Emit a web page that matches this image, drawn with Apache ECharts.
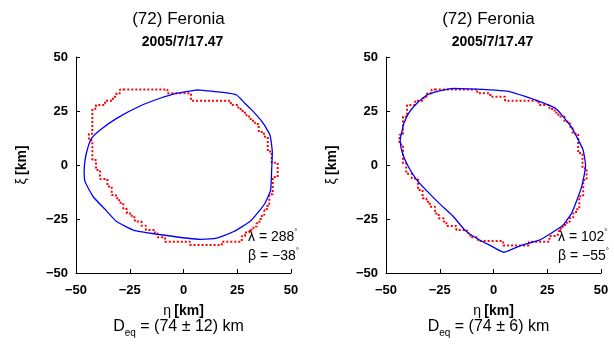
<!DOCTYPE html>
<html>
<head>
<meta charset="utf-8">
<script src="https://cdn.jsdelivr.net/npm/echarts@6/dist/echarts.min.js"></script>
<style>
  html, body { margin: 0; padding: 0; background: #ffffff; }
  #chart { width: 614px; height: 347px; }
</style>
</head>
<body>
<div id="chart"></div>
<script>
// Axis ticks (km), shared by both projections
const ticks = [-50, -25, 0, 25, 50];

// Panel captions
const asteroidName = '(72) Feronia';
const epochLabel = '2005/7/17.47';

// Pole solutions and equivalent diameters
const poleLambda = [288, 102];
const poleBeta = [-38, -55];
const diameter = [74, 74];
const diameterErr = [12, 6];

// Shape-model silhouette, pole solution 1 (eta, xi) in km
const modelLeft = [
  [6.5, 34.8], [18.5, 33.6], [24.7, 32.4], [28.5, 28.6], [32.5, 24.7], [37.1, 19.3],
  [40.2, 13.9], [41.3, 6], [41, -2.3], [40.5, -11.6], [37.9, -17.7], [34.5, -22.2],
  [30.9, -26.2], [23.2, -30.9], [15.4, -33.9], [7.7, -34.4], [-9.4, -32.4], [-23.3, -30.1],
  [-31.1, -26.2], [-36.5, -20.5], [-42, -14.7], [-45.8, -7.7], [-46.2, -3], [-45.8, 2.3],
  [-44.5, 8], [-42.7, 12.4], [-38.8, 16.2], [-31.1, 21.6], [-20.2, 27.3], [-10.9, 30.9],
  [-3.2, 33.2], [6.5, 34.8]
];

// Occultation-derived outline (pixel contour), pole solution 1
const outlineLeft = [
  [-28, 35], [-7.5, 35], [-7.5, 33.2], [3.5, 33.2], [3.5, 29.8], [22, 29.8], [22, 27.8],
  [25.5, 27.8], [25.5, 25.9], [27.5, 25.9], [27.5, 24.2], [29.3, 24.2], [29.3, 22.4],
  [31.2, 22.4], [31.2, 20.5], [33.2, 20.5], [33.2, 19], [35, 19], [35, 15.3], [37.4, 15.3],
  [37.4, 13.1], [39.2, 13.1], [39.2, 6.2], [41, 6.2], [41, 1], [43.8, 1], [43.8, -5.6],
  [41.5, -5.6], [41.5, -13.5], [39.9, -13.5], [39.9, -19], [38.7, -19], [38.7, -21],
  [37.6, -21], [37.6, -23], [36.4, -23], [36.4, -25], [35.3, -25], [35.3, -27], [34, -27],
  [34, -28.5], [32.5, -28.5], [32.5, -30], [30.6, -30], [30.6, -31.2], [28.6, -31.2],
  [28.6, -33], [27.1, -33], [27.1, -35.5], [17.8, -35.5], [17.8, -37], [3, -37], [3, -35.5],
  [-8.6, -35.5], [-8.6, -33.5], [-12, -33.5], [-12, -31.6], [-13.3, -31.6], [-13.3, -30.1],
  [-17.5, -30.1], [-17.5, -28.1], [-19.5, -28.1], [-19.5, -26.2], [-22.6, -26.2],
  [-22.6, -24.2], [-24.1, -24.2], [-24.1, -22.4], [-26.3, -22.4], [-26.3, -20.4], [-28, -20.4],
  [-28, -17.5], [-29.9, -17.5], [-29.9, -15.4], [-31.4, -15.4], [-31.4, -13.9], [-33.4, -13.9],
  [-33.4, -10], [-35.4, -10], [-35.4, -6.5], [-38.8, -6.5], [-38.8, -2.3], [-40.7, -2.3],
  [-40.7, 2.3], [-42.4, 2.3], [-42.4, 11.5], [-44, 11.5], [-44, 14.5], [-42.4, 14.5],
  [-42.4, 26], [-40.7, 26], [-40.7, 27.8], [-36.5, 27.8], [-36.5, 29.8], [-32.8, 29.8],
  [-32.8, 31.6], [-31.2, 31.6], [-31.2, 33.2], [-29.5, 33.2], [-29.5, 35], [-28, 35]
];

// Shape-model silhouette, pole solution 2
const modelRight = [
  [-19, 35.5], [-5, 35], [3.3, 34.4], [7.7, 33.9], [14, 32], [21.6, 29.3], [28.9, 26.2],
  [32.4, 22.4], [36.6, 17], [39.5, 11.5], [41.7, 6.9], [42.8, 0], [42.5, -3], [41, -10],
  [38.5, -17], [36.3, -22.4], [33, -27], [31.6, -28.5], [27, -31.5], [21.6, -34.7],
  [12.6, -37.3], [4.8, -40.4], [-2, -37], [-7.7, -34], [-13, -30.5], [-19, -23.5],
  [-25, -18], [-31, -12], [-36, -6.5], [-40, 0], [-42.5, 6], [-43.4, 11.5], [-42.5, 16],
  [-41.8, 19], [-39.5, 23.9], [-36.4, 27.8], [-30.9, 32.4], [-24.6, 34.4], [-19, 35.5]
];

// Occultation-derived outline, pole solution 2
const outlineRight = [
  [-27.3, 35], [-7.5, 35], [-7.5, 33.2], [-1.5, 33.2], [-1.5, 31.6], [5.4, 31.6], [5.4, 29.8],
  [21, 29.8], [21, 27.8], [26, 27.8], [26, 25.9], [28.5, 25.9], [28.5, 24.2], [30.2, 24.2],
  [30.2, 22.4], [33, 22.4], [33, 20], [35.5, 20], [35.5, 17.7], [36.8, 17.7], [36.8, 14.5],
  [39.4, 14.5], [39.4, 5.5], [41.4, 5.5], [41.4, -1.5], [43.3, -1.5], [43.3, -7], [41.7, -7],
  [41.7, -14.5], [39.9, -14.5], [39.9, -20.5], [38.4, -20.5], [38.4, -22.4], [37.1, -22.4],
  [37.1, -24.3], [35.6, -24.3], [35.6, -26.2], [34.1, -26.2], [34.1, -27.8], [32.2, -27.8],
  [32.2, -29.5], [30.5, -29.5], [30.5, -31.2], [29.6, -31.2], [29.6, -32.9], [26, -32.9],
  [26, -35.5], [16.5, -35.5], [16.5, -37.3], [4.5, -37.3], [4.5, -35.2], [-7.2, -35.2],
  [-7.2, -33.5], [-10.8, -33.5], [-10.8, -31.6], [-12.4, -31.6], [-12.4, -30.1], [-17.3, -30.1],
  [-17.3, -28.2], [-21.9, -28.2], [-21.9, -26.2], [-23.2, -26.2], [-23.2, -24.7], [-25.5, -24.7],
  [-25.5, -22.4], [-27.2, -22.4], [-27.2, -19.3], [-29.6, -19.3], [-29.6, -17], [-31.2, -17],
  [-31.2, -15.4], [-33, -15.4], [-33, -11.6], [-35.1, -11.6], [-35.1, -6.3], [-38, -6.3],
  [-38, -4], [-40.6, -4], [-40.6, 0.8], [-42.1, 0.8], [-42.1, 9.5], [-43.7, 9.5], [-43.7, 14],
  [-42.1, 14], [-42.1, 22.4], [-40.2, 22.4], [-40.2, 27.8], [-36.4, 27.8], [-36.4, 29.8],
  [-32.5, 29.8], [-32.5, 31.6], [-30.9, 31.6], [-30.9, 33.2], [-28.8, 33.2], [-28.8, 35],
  [-27.3, 35]
];

const FONT = '"Liberation Sans", Arial, Helvetica, sans-serif';
const MINUS = '\u2212';
const fmt = v => String(v).replace('-', MINUS);

const panels = [
  { left: 76, model: modelLeft, outline: outlineLeft },
  { left: 386, model: modelRight, outline: outlineRight }
];
const PW = 215, PT = 57, PH = 216;

function xAxisFor(i) {
  return {
    gridIndex: i, type: 'value',
    min: ticks[0], max: ticks[ticks.length - 1], interval: ticks[1] - ticks[0],
    axisLine: { show: true, onZero: false, lineStyle: { color: '#000', width: 1 } },
    axisTick: { show: true, inside: true, length: 4, lineStyle: { color: '#000' } },
    splitLine: { show: false },
    axisLabel: { formatter: fmt, color: '#000', fontFamily: FONT, fontWeight: 'bold', fontSize: 13, margin: 11 },
    name: '{g|\u03b7} {b|[km]}',
    nameLocation: 'middle', nameGap: 31,
    nameTextStyle: {
      color: '#000', fontFamily: FONT,
      rich: {
        g: { fontSize: 14, fontFamily: FONT, color: '#000' },
        b: { fontSize: 14, fontFamily: FONT, fontWeight: 'bold', color: '#000' }
      }
    }
  };
}
function yAxisFor(i) {
  return {
    gridIndex: i, type: 'value',
    min: ticks[0], max: ticks[ticks.length - 1], interval: ticks[1] - ticks[0],
    axisLine: { show: true, onZero: false, lineStyle: { color: '#000', width: 1 } },
    axisTick: { show: true, inside: true, length: 4, lineStyle: { color: '#000' } },
    splitLine: { show: false },
    axisLabel: { formatter: fmt, color: '#000', fontFamily: FONT, fontWeight: 'bold', fontSize: 13, margin: 8 },
    name: '{g|\u03be} {b|[km]}',
    nameLocation: 'middle', nameGap: 47, nameRotate: 90,
    nameTextStyle: {
      color: '#000', fontFamily: FONT,
      rich: {
        g: { fontSize: 14, fontFamily: FONT, color: '#000' },
        b: { fontSize: 14, fontFamily: FONT, fontWeight: 'bold', color: '#000' }
      }
    }
  };
}

const graphics = [];
const series = [];
panels.forEach((p, i) => {
  const cx = p.left + PW / 2;
  graphics.push(
    { type: 'text', x: cx - 5, y: 19, style: { text: asteroidName, font: '17px ' + FONT, fill: '#000', align: 'center', verticalAlign: 'middle' } },
    { type: 'text', x: cx - 1, y: 42, style: { text: epochLabel, font: 'bold 14px ' + FONT, fill: '#000', align: 'center', verticalAlign: 'middle' } },
    { type: 'text', x: p.left + 172, y: 237, style: {
        text: '{t|\u03bb = ' + poleLambda[i] + '}{s|\u00b0}',
        rich: { t: { fontSize: 14, fontFamily: FONT, fill: '#000' }, s: { fontSize: 8, fontFamily: FONT, fill: '#000', verticalAlign: 'top', padding: [0, 0, 10, 0] } },
        align: 'left', verticalAlign: 'middle' } },
    { type: 'text', x: p.left + 172, y: 256, style: {
        text: '{t|\u03b2 = ' + fmt(poleBeta[i]) + '}{s|\u00b0}',
        rich: { t: { fontSize: 14, fontFamily: FONT, fill: '#000' }, s: { fontSize: 8, fontFamily: FONT, fill: '#000', verticalAlign: 'top', padding: [0, 0, 10, 0] } },
        align: 'left', verticalAlign: 'middle' } },
    { type: 'text', x: cx - 5, y: 327, style: {
        text: '{d|D}{q|eq}{d| = (' + diameter[i] + ' \u00b1 ' + diameterErr[i] + ') km}',
        rich: { d: { fontSize: 16, fontFamily: FONT, fill: '#000' }, q: { fontSize: 10, fontFamily: FONT, fill: '#000', padding: [12, 0, 0, 0] } },
        align: 'center', verticalAlign: 'middle' } }
  );
  series.push(
    {
      type: 'line', xAxisIndex: i, yAxisIndex: i, data: p.outline,
      showSymbol: false, silent: true, animation: false, z: 2,
      lineStyle: { color: '#ff0000', width: 2, type: [2, 2], cap: 'butt' }
    },
    {
      type: 'line', xAxisIndex: i, yAxisIndex: i, data: p.model,
      showSymbol: false, silent: true, animation: false, z: 3, smooth: 0.15,
      lineStyle: { color: '#0000ff', width: 1.3 }
    }
  );
});

const chart = echarts.init(document.getElementById('chart'), null, { renderer: 'canvas' });
chart.setOption({
  backgroundColor: '#ffffff',
  animation: false,
  grid: panels.map(p => ({ left: p.left, top: PT, width: PW, height: PH })),
  xAxis: panels.map((p, i) => xAxisFor(i)),
  yAxis: panels.map((p, i) => yAxisFor(i)),
  series: series,
  graphic: graphics
});
</script>
</body>
</html>
